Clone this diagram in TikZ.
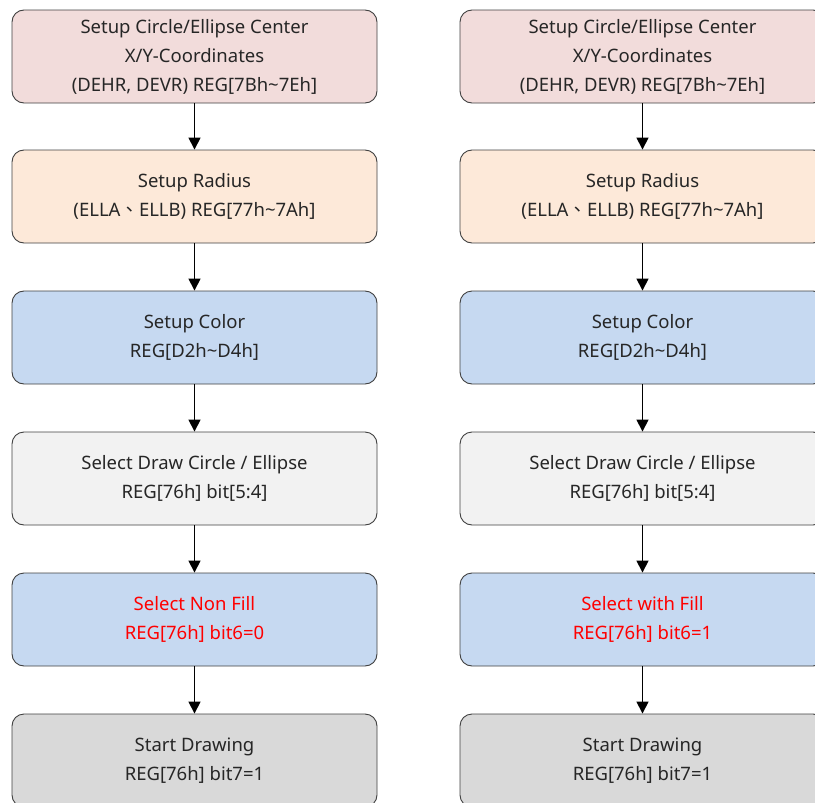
\documentclass[tikz,border=0pt]{standalone}
\usepackage{fontspec}
\setmainfont{Noto Sans}
\newfontfamily\cjk{Noto Sans CJK TC}
\usetikzlibrary{arrows.meta}
\definecolor{cpink}{HTML}{F2DCDB}
\definecolor{cpeach}{HTML}{FDE9D9}
\definecolor{cblue}{HTML}{C6D9F1}
\definecolor{clgray}{HTML}{F2F2F2}
\definecolor{cgray}{HTML}{D9D9D9}
\definecolor{cborder}{HTML}{404040}
\definecolor{cred}{HTML}{FF0000}
\tikzset{
  box/.style={draw=cborder, line width=0.9pt, rounded corners=12pt, minimum width=365pt, minimum height=93pt,
    align=center, inner sep=0pt, font=\fontsize{18.5pt}{29pt}\selectfont, text=black!85},
  redtxt/.style={text=cred},
  flow/.style={-{Triangle[length=12pt,width=12pt]}, line width=1.6pt, black}
}
\begin{document}
\begin{tikzpicture}[x=1pt,y=-1pt]
\useasboundingbox (0,0) rectangle (815,803);
\clip (0,0) rectangle (815,803);
\foreach \cx/\s in {194.5/L,642.5/R}{
  \node[box, fill=cpink] (a\s) at (\cx,56.5) {Setup Circle/Ellipse Center\\X/Y-Coordinates\\(DEHR, DEVR) REG[7Bh\textasciitilde7Eh]};
  \node[box, fill=cpeach] (b\s) at (\cx,196.5) {Setup Radius\\(ELLA{\cjk 、}ELLB) REG[77h\textasciitilde7Ah]};
  \node[box, fill=cblue] (c\s) at (\cx,337.5) {Setup Color\\REG[D2h\textasciitilde D4h]};
  \node[box, fill=clgray] (d\s) at (\cx,478.5) {Select Draw Circle / Ellipse\\REG[76h] bit[5:4]};
  \node[box, fill=cgray] (f\s) at (\cx,760.5) {Start Drawing\\REG[76h] bit7=1};
}
\node[box, fill=cblue, redtxt] (eL) at (194.5,619.5) {Select Non Fill\\REG[76h] bit6=0};
\node[box, fill=cblue, redtxt] (eR) at (642.5,619.5) {Select with Fill\\REG[76h] bit6=1};
\foreach \s in {L,R}{
  \draw[flow] (a\s) -- (b\s);
  \draw[flow] (b\s) -- (c\s);
  \draw[flow] (c\s) -- (d\s);
  \draw[flow] (d\s) -- (e\s);
  \draw[flow] (e\s) -- (f\s);
}
\end{tikzpicture}
\end{document}
